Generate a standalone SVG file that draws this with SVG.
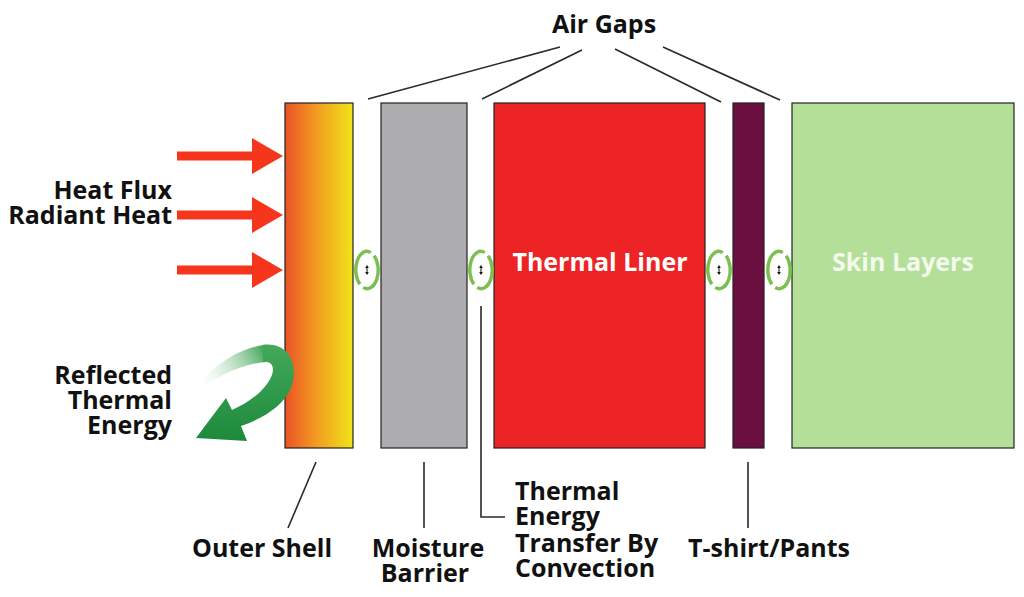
<svg xmlns="http://www.w3.org/2000/svg" width="1024" height="597" viewBox="0 0 1024 597">
<style>
.lbl{font-family:"Open Sans","Liberation Sans",sans-serif;font-weight:bold;font-size:25px;fill:#111}
.box{stroke:#222;stroke-width:1.2}
.ln{stroke:#2a2a2a;stroke-width:1.6;fill:none}
.inner{font-family:"Open Sans","Liberation Sans",sans-serif;font-weight:bold;font-size:25px;text-anchor:middle}
</style>
<defs>
<linearGradient id="shellG" x1="0" y1="0" x2="1" y2="0">
<stop offset="0" stop-color="#ea5226"/>
<stop offset="0.45" stop-color="#f39a20"/>
<stop offset="1" stop-color="#f0e41a"/>
</linearGradient>
<linearGradient id="tailG" gradientUnits="userSpaceOnUse" x1="192" y1="385" x2="264" y2="350">
<stop offset="0" stop-color="#ffffff" stop-opacity="0"/>
<stop offset="1" stop-color="#45a85a"/>
</linearGradient>
<linearGradient id="bodyG" gradientUnits="userSpaceOnUse" x1="0" y1="345" x2="0" y2="440">
<stop offset="0" stop-color="#45a85a"/>
<stop offset="1" stop-color="#1c8a3c"/>
</linearGradient>
<g id="conv">
<path d="M -7.07 14.3 A 11 18.5 0 0 1 3.76 -17.4 M 7.07 -14.3 A 11 18.5 0 0 1 -3.76 17.4" fill="none" stroke="#7cbf4e" stroke-width="3.4"/>
<path d="M 0 -3 L 0 3" stroke="#111" stroke-width="1"/>
<path d="M -1.8 -2 L 0 -5 L 1.8 -2 Z M -1.8 2 L 0 5 L 1.8 2 Z" fill="#111"/>
</g>
<path id="heatArrow" d="M 0 -4.5 L 75 -4.5 L 75 -18 L 106 0 L 75 18 L 75 4.5 L 0 4.5 Z" fill="#f5361c"/>
</defs>
<rect width="1024" height="597" fill="#ffffff"/>

<g id="outer-shell"><rect class="box" x="285" y="103" width="68" height="345" fill="url(#shellG)"/></g>
<g id="moisture-barrier"><rect class="box" x="381" y="103" width="86" height="345" fill="#adadaf"/></g>
<g id="thermal-liner"><rect class="box" x="494" y="103" width="211" height="345" fill="#ed2426"/>
<text class="inner" x="600" y="271" fill="#ffffff">Thermal Liner</text></g>
<g id="tshirt"><rect class="box" x="733" y="103" width="31" height="345" fill="#6a0f3f"/></g>
<g id="skin-layers"><rect class="box" x="792" y="103" width="222" height="345" fill="#b3df98"/>
<text class="inner" x="903" y="271" fill="#f3faee">Skin Layers</text></g>

<g id="convection">
<use href="#conv" x="367" y="270"/>
<use href="#conv" x="481" y="270"/>
<use href="#conv" x="719" y="270"/>
<use href="#conv" x="779" y="270"/>
</g>

<g id="heat-flux">
<use href="#heatArrow" x="177" y="156"/>
<use href="#heatArrow" x="177" y="215"/>
<use href="#heatArrow" x="177" y="270"/>
<text class="lbl" text-anchor="end" x="172" y="199">Heat Flux</text>
<text class="lbl" text-anchor="end" x="172" y="224">Radiant Heat</text>
</g>

<g id="reflected">
<path d="M 190 396 C 208 370 234 349 264 345 L 266 362 C 240 364 214 378 190 396 Z" fill="url(#tailG)"/>
<path d="M 262 345 C 288 341 300 364 291 388 C 283 406 264 418 241 426 L 247 441 L 196 438 L 226 398 L 232 410 C 250 402 266 390 272 375 C 275 366 271 361 263 362 Z" fill="url(#bodyG)"/>
<text class="lbl" text-anchor="end" x="172" y="384">Reflected</text>
<text class="lbl" text-anchor="end" x="172" y="409">Thermal</text>
<text class="lbl" text-anchor="end" x="172" y="434">Energy</text>
</g>

<g id="air-gaps">
<text class="lbl" x="604" y="33" text-anchor="middle" font-size="26">Air Gaps</text>
</g>

<g id="connectors">
<path class="ln" d="M 560 47 L 368 99"/>
<path class="ln" d="M 582 50 L 482 99"/>
<path class="ln" d="M 615 49 L 721 102"/>
<path class="ln" d="M 663 47 L 780 100"/>
<path class="ln" d="M 316 462 L 288 528"/>
<path class="ln" d="M 424 462 L 424 528"/>
<path class="ln" d="M 481 306 L 481 517 L 505 517"/>
<path class="ln" d="M 748 462 L 748 528"/>
</g>

<g id="labels">
<text class="lbl" x="192" y="557">Outer Shell</text>
<text class="lbl" x="428" y="557" text-anchor="middle">Moisture</text>
<text class="lbl" x="425" y="582" text-anchor="middle">Barrier</text>
<text class="lbl" x="515" y="500">Thermal</text>
<text class="lbl" x="515" y="525">Energy</text>
<text class="lbl" x="515" y="552">Transfer By</text>
<text class="lbl" x="515" y="577">Convection</text>
<text class="lbl" x="688" y="557">T-shirt/Pants</text>
</g>
</svg>
